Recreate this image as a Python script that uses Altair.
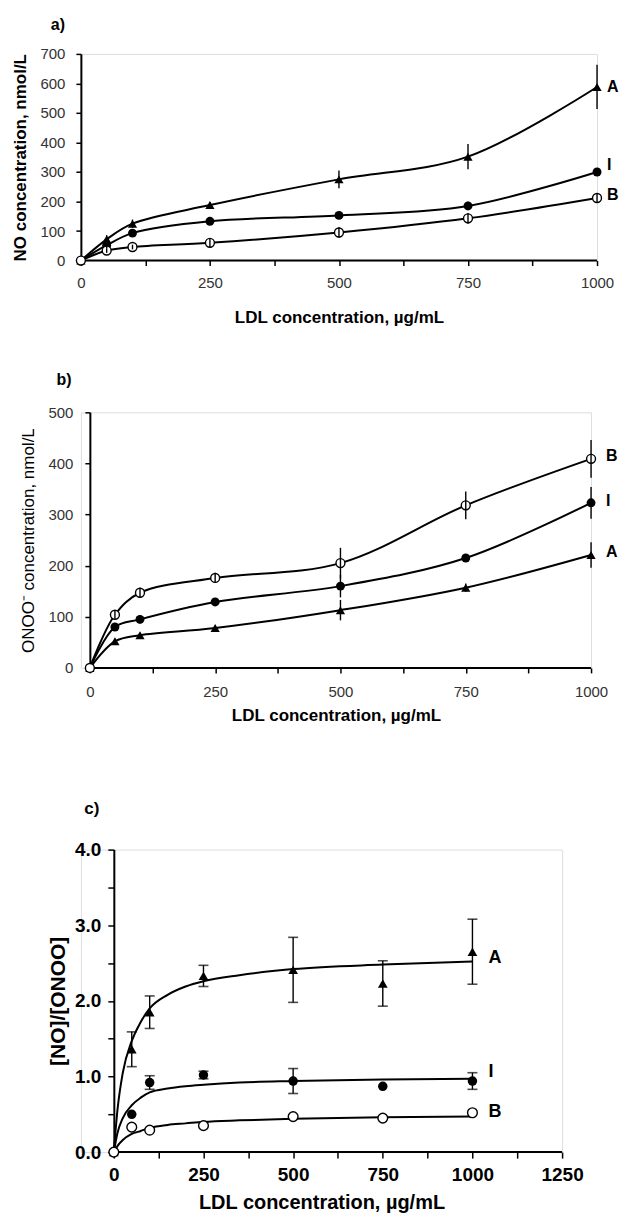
import altair as alt
import pandas as pd

FONT = "Liberation Sans"

# ---------------- data ----------------
X = [0, 50, 100, 250, 500, 750, 1000]
SERIES = ["A", "I", "B"]

# panel a: NO concentration, nmol/L
NO_A = [0, 72, 125, 188, 275, 352, 588]
NO_A_ERR = [0, 14, 14, 10, 30, 43, 75]
NO_I = [0, 52, 93, 133, 153, 185, 300]
NO_I_ERR = [0, 10, 12, 10, 12, 14, 10]
NO_B = [0, 34, 46, 60, 95, 143, 212]
NO_B_ERR = [0, 8, 8, 15, 18, 18, 14]
NO_LABEL_Y = [588, 325, 223]

# panel b: ONOO- concentration, nmol/L
ON_A = [0, 52, 64, 78, 113, 157, 221]
ON_A_ERR = [0, 5, 5, 5, 20, 8, 25]
ON_I = [0, 80, 95, 129, 160, 215, 323]
ON_I_ERR = [0, 8, 8, 8, 22, 8, 31]
ON_B = [0, 104, 147, 176, 205, 318, 409]
ON_B_ERR = [0, 8, 10, 10, 30, 27, 37]
ON_LABEL_Y = [227, 326, 414]

# panel c: [NO]/[ONOO] ratio
R_A = [0, 1.36, 1.85, 2.33, 2.41, 2.23, 2.65]
R_A_ERR = [0, 0.23, 0.215, 0.14, 0.43, 0.30, 0.43]
R_I = [0, 0.50, 0.92, 1.02, 0.94, 0.87, 0.94]
R_I_ERR = [0, 0, 0.09, 0.05, 0.165, 0, 0.11]
R_B = [0, 0.33, 0.29, 0.35, 0.47, 0.45, 0.52]
R_B_ERR = [0, 0, 0, 0, 0, 0, 0]
R_LABEL_Y = [2.57, 1.06, 0.53]

# fitted curves of panel c
FIT_X = [0, 10, 25, 50, 75, 100, 150, 200, 250, 350, 500, 750, 1000]
FIT_A = [0, 0.55, 1.05, 1.47, 1.72, 1.90, 2.08, 2.19, 2.26, 2.34, 2.42, 2.48, 2.52]
FIT_I = [0, 0.25, 0.45, 0.62, 0.72, 0.79, 0.84, 0.87, 0.89, 0.92, 0.94, 0.96, 0.97]
FIT_B = [0, 0.08, 0.16, 0.24, 0.28, 0.32, 0.36, 0.38, 0.40, 0.42, 0.44, 0.46, 0.47]


def long_df(xs, vals, errs=None):
    rows = []
    for k, s in enumerate(SERIES):
        for j, x in enumerate(xs):
            v = vals[k][j]
            e = errs[k][j] if errs is not None else 0
            rows.append({"x": x, "y": v, "lo": v - e, "hi": v + e, "e": e, "s": s})
    return pd.DataFrame(rows)


def spacer(px, py):
    return alt.Chart(pd.DataFrame({"k": [0]})).mark_point(
        filled=True, size=1, color="white", opacity=1, strokeWidth=0
    ).encode(x=alt.value(px), y=alt.value(py))


def letter(txt, px, py, size):
    return alt.Chart(pd.DataFrame({"t": [txt]})).mark_text(
        font=FONT, fontSize=size, fontWeight="bold", color="black",
        align="center", baseline="middle"
    ).encode(x=alt.value(px), y=alt.value(py), text="t:N")


def make_panel(pts, curve, interp, labels, xdomain, xmax, ydomain, xaxis, yaxis,
               w, h, psize, lab_dx, lab_size, caps, extra):
    xs = alt.Scale(domain=xdomain, nice=False, zero=False)
    ys = alt.Scale(domain=ydomain, nice=False, zero=False)
    ex = alt.X("x:Q", scale=xs, axis=xaxis)
    ey = alt.Y("y:Q", scale=ys, axis=yaxis)

    # x axis line from 0 to the last tick
    baseline = alt.Chart(pd.DataFrame({"x": [0], "x2": [xmax], "y": [0]})).mark_rule(
        color="black", strokeWidth=2
    ).encode(x=ex, x2="x2:Q", y=ey)

    line = alt.Chart(curve).mark_line(
        color="black", strokeWidth=2, interpolate=interp
    ).encode(x=ex, y=ey, detail="s:N")

    base = alt.Chart(pts)
    tri = base.transform_filter(alt.datum.s == "A").mark_point(
        shape="triangle-up", filled=True, color="black", size=psize[0], opacity=1
    ).encode(x=ex, y=ey)
    dot = base.transform_filter(alt.datum.s == "I").mark_point(
        shape="circle", filled=True, color="black", size=psize[1], opacity=1
    ).encode(x=ex, y=ey)
    ring = base.transform_filter(alt.datum.s == "B").mark_point(
        shape="circle", filled=False, fill="white", fillOpacity=1,
        stroke="black", strokeWidth=1.4, size=psize[2], opacity=1
    ).encode(x=ex, y=ey)

    errbase = base.transform_filter(alt.datum.e > 0)
    err = errbase.mark_rule(color="black", strokeWidth=1.4).encode(
        x=ex, y=alt.Y("lo:Q", scale=ys, axis=yaxis), y2="hi:Q"
    )
    layers = [baseline, line, tri, dot, ring, err]
    if caps:
        for f in ["lo", "hi"]:
            layers.append(errbase.mark_tick(
                color="black", orient="horizontal", size=10, thickness=1.6
            ).encode(x=ex, y=alt.Y(f + ":Q", scale=ys, axis=yaxis)))

    lab = alt.Chart(labels).mark_text(
        font=FONT, fontSize=lab_size, fontWeight="bold", color="black",
        align="left", baseline="middle", dx=lab_dx
    ).encode(x=ex, y=alt.Y("ly:Q", scale=ys, axis=yaxis), text="s:N")
    layers.append(lab)
    layers += extra
    return alt.layer(*layers).properties(width=w, height=h)


def axis_x(values, title, tfs, tw, ty, lfs, lw, lpad, tick, fmt, lcolor):
    return alt.Axis(
        values=values, format=fmt,
        labelExpr="datum.value % 250 === 0 ? datum.label : ''",
        title=title, titleFont=FONT, titleFontSize=tfs, titleFontWeight=tw,
        titleColor="black", titleY=ty, titleBaseline="middle",
        labelFont=FONT, labelFontSize=lfs, labelFontWeight=lw, labelColor=lcolor,
        labelPadding=lpad, labelFlush=False, labelOverlap=False,
        tickSize=tick, tickWidth=1.5, tickColor="black",
        domain=False, grid=False,
    )


def axis_y(values, title, tfs, tw, tx, ty, lfs, lw, lpad, tick, fmt, lcolor,
           offset=0, lexpr=None):
    kw = dict(
        values=values, format=fmt, offset=offset,
        title=title, titleFont=FONT, titleFontSize=tfs, titleFontWeight=tw,
        titleColor="black", titleX=tx, titleY=ty, titleBaseline="middle",
        titleAngle=270, titleAlign="center",
        labelFont=FONT, labelFontSize=lfs, labelFontWeight=lw, labelColor=lcolor,
        labelPadding=lpad, labelFlush=False, labelOverlap=False,
        tickSize=tick, tickWidth=1.5, tickColor="black",
        domainColor="black", domainWidth=2, grid=False,
    )
    if lexpr:
        kw["labelExpr"] = lexpr
    return alt.Axis(**kw)


# ---------------- panel a ----------------
pts_a = long_df(X, [NO_A, NO_I, NO_B], [NO_A_ERR, NO_I_ERR, NO_B_ERR])
lab_a = pd.DataFrame({"x": [1000] * 3, "ly": NO_LABEL_Y, "s": SERIES})
pa = make_panel(
    pts_a, pts_a, "catmull-rom", lab_a, [0, 1000], 1000, [0, 700],
    axis_x(list(range(0, 1001, 125)), "LDL concentration, µg/mL", 17, "bold", 57,
           15, "normal", 10, 5, "d", "#333"),
    axis_y(list(range(0, 701, 100)), "NO concentration, nmol/L", 17, "bold", -60, 103.5,
           15, "normal", 11, 5, "d", "#333"),
    517, 207, [85, 80, 80], 10, 16, False,
    [letter("a)", -23, -29, 16), spacer(-71.5, -44), spacer(-71.5, 274)],
)

# ---------------- panel b ----------------
# plot area starts 9 px left of the y axis (axis moved inwards)
pts_b = long_df(X, [ON_A, ON_I, ON_B], [ON_A_ERR, ON_I_ERR, ON_B_ERR])
lab_b = pd.DataFrame({"x": [1000] * 3, "ly": ON_LABEL_Y, "s": SERIES})
pb = make_panel(
    pts_b, pts_b, "catmull-rom", lab_b, [-17.93, 1000], 1000, [0, 500],
    axis_x(list(range(0, 1001, 125)), "LDL concentration, µg/mL", 17, "bold", 48,
           15, "normal", 12, 5, "d", "#333"),
    axis_y(list(range(0, 501, 100)), "ONOO\u207b concentration, nmol/L", 17, "normal", -61.5, 128,
           15, "normal", 12, 5, "d", "#333", offset=-9),
    511, 256, [85, 80, 80], 15, 16, False,
    [letter("b)", -17, -32, 16), spacer(-60, -83), spacer(-60, 326)],
)

# ---------------- panel c ----------------
# plot area starts 33 px left of the y axis (axis moved inwards)
pts_c = long_df(X, [R_A, R_I, R_B], [R_A_ERR, R_I_ERR, R_B_ERR])
curve_c = long_df(FIT_X, [FIT_A, FIT_I, FIT_B])
lab_c = pd.DataFrame({"x": [1000] * 3, "ly": R_LABEL_Y, "s": SERIES})
pc = make_panel(
    pts_c, curve_c, "monotone", lab_c, [-91.87, 1250], 1250, [0, 4],
    axis_x(list(range(0, 1251, 125)), "LDL concentration, µg/mL", 20, "bold", 50,
           19, "bold", 7, 6, "d", "black"),
    axis_y([i * 0.5 for i in range(9)], "[NO]/[ONOO]", 21, "bold", -55.5, 151.5,
           19, "bold", 7, 6, ".1f", "black", offset=-33,
           lexpr="datum.value % 1 === 0 ? datum.label : ''"),
    482, 303, [95, 90, 95], 16, 18, True,
    [letter("c)", 11, -41, 17), spacer(-60, -110)],
)

chart = alt.ConcatChart(
    concat=[pa, pb, pc], columns=1, align="none", spacing=0, padding=0
).configure_view(stroke=None).configure(background="white")

chart.save("out.html", embed_options={"renderer": "svg", "actions": False})
